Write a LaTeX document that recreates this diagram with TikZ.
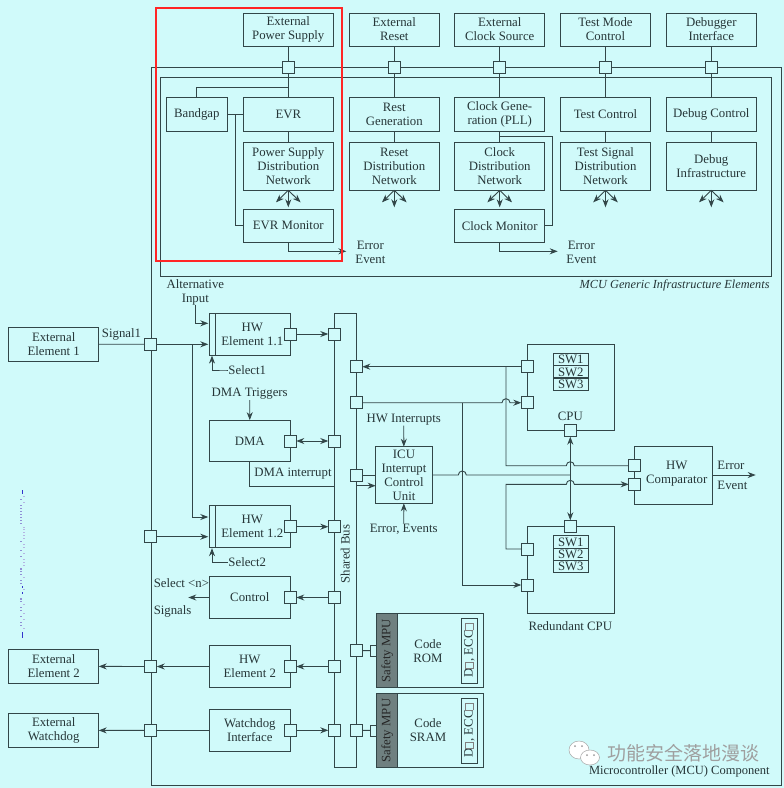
\documentclass[tikz,border=0pt]{standalone}
\usepackage{xcolor}
\usepackage{fontspec}
\setmainfont{Liberation Serif}
\newfontfamily\cjk{Noto Sans CJK SC}
\usetikzlibrary{arrows.meta}
\usetikzlibrary{calc}
\definecolor{bgcol}{HTML}{D0FAFA}
\definecolor{inkcol}{HTML}{324648}
\definecolor{txtcol}{HTML}{263638}
\definecolor{mpucol}{HTML}{6F8080}
\newcommand{\tofu}{{\color{gray}\fboxsep=0pt\fboxrule=.5pt\fbox{\rule{6pt}{0pt}\rule{0pt}{7pt}}}}

\begin{document}
\begin{tikzpicture} [
                x=1pt, y=-1pt, line width=.9pt, draw=inkcol, text=txtcol,
                txt/.style = {font=\fontsize{12.8}{14}\selectfont, align=center, inner sep=0pt},
                block/.style = {txt, draw, outer sep=0pt, minimum width=#1},
                block/.default = 90pt,
                port/.style = {draw, fill=bgcol, outer sep=0pt, inner sep=0pt, minimum width=12pt, minimum height=12pt},
                wire/.style = {draw=inkcol},
                arr/.style = {draw=inkcol, -{Stealth[length=8pt,width=6pt]}},
                darr/.style = {draw=inkcol, {Stealth[length=8pt,width=6pt]}-{Stealth[length=8pt,width=6pt]}},
                swbox/.style = {txt, draw, outer sep=0pt, minimum width=35pt, minimum height=12.2pt}
            ]
            \fill[bgcol] (0,0) rectangle (784,788);
            \useasboundingbox (0,0) rectangle (784,788);
            % frames and bus
            \node (mcu) at (466.2,426.7) [draw, outer sep=0pt, minimum width=630.3pt, minimum height=718pt] {};
            \node (infra) at (466,176.7) [draw, outer sep=0pt, minimum width=611.4pt, minimum height=199.3pt] {};
            \node (bus) at (345.3,540.5) [draw, outer sep=0pt, minimum width=22pt, minimum height=453.6pt] {};
            \node (buslabel) at (345.3,554) [txt, rotate=90] {Shared Bus};
            \node (infralabel) at (770,285) [txt, anchor=east, font=\fontsize{12.3}{14}\selectfont\itshape] {MCU Generic Infrastructure Elements};
            \node (mculabel) at (770,771.7) [txt, anchor=east, font=\fontsize{12.5}{14}\selectfont] {Microcontroller (MCU) Component};

            % top row
            \node (ext1) at (288.3,29.5) [block, minimum height=33pt] {External\\Power Supply};
            \node (ext2) at (394.3,29.5) [block, minimum height=33pt] {External\\Reset};
            \node (ext3) at (499.7,29.5) [block, minimum height=33pt] {External\\Clock Source};
            \node (ext4) at (605.5,29.5) [block, minimum height=33pt] {Test Mode\\Control};
            \node (ext5) at (711.3,29.5) [block, minimum height=33pt] {Debugger\\Interface};
            \foreach \i/\x in {1/288.3,2/394.3,3/499.7,4/605.5,5/711.3} {
                \node (p\i) at (\x,67.7) [port] {};
            }
            \node (gap) at (196.8,114.4) [block=61.7pt, minimum height=33.3pt] {Bandgap};
            \node (gen1) at (288.3,114.4) [block, minimum height=33.3pt] {EVR};
            \node (gen2) at (394.3,114.4) [block, minimum height=33.3pt] {Rest\\Generation};
            \node (gen3) at (499.7,114.4) [block, minimum height=33.3pt] {Clock Gene-\\ration (PLL)};
            \node (gen4) at (605.5,114.4) [block, minimum height=33.3pt] {Test Control};
            \node (gen5) at (711.3,114.4) [block, minimum height=33.3pt] {Debug Control};
            \node (dist1) at (288.3,166.3) [block, minimum height=48pt] {Power Supply\\Distribution\\Network};
            \node (dist2) at (394.3,166.3) [block, minimum height=48pt] {Reset\\Distribution\\Network};
            \node (dist3) at (499.7,166.3) [block, minimum height=48pt] {Clock\\Distribution\\Network};
            \node (dist4) at (605.5,166.3) [block, minimum height=48pt] {Test Signal\\Distribution\\Network};
            \node (dist5) at (711.3,166.3) [block, minimum height=48pt] {Debug\\Infrastructure};
            \node (mon1) at (288.3,225.7) [block, minimum height=33.3pt] {EVR Monitor};
            \node (mon3) at (499.7,225.7) [block, minimum height=33.3pt] {Clock Monitor};
            \foreach \i in {1,...,5} {
                \draw[wire] (ext\i) -- (p\i);
                \draw[wire] (p\i) -- (gen\i);
                \draw[wire] (gen\i) -- (dist\i);
                \draw[arr] (dist\i.south) -- ++(-12.3,12);
                \draw[arr] (dist\i.south) -- ++(0,17);
                \draw[arr] (dist\i.south) -- ++(12.3,12);
            }
            \coordinate (tap) at (288.3,87.3);
            \draw[wire] (tap) -| (gap);
            \draw[wire] (gap) -- (gen1);
            \coordinate (gaptap) at (235.3,114.4);
            \draw[wire] (gaptap) |- (mon1);
            \coordinate (clktap) at (499.7,136.3);
            \draw[wire] (clktap) -- (552.7,136.3) |- (mon3);
            \coordinate (err1) at (346.3,251.3);
            \coordinate (err3) at (557.7,251.3);
            \draw[arr] (mon1) |- (err1);
            \draw[arr] (mon3) |- (err3);
            \node (errtxt1) at (355,252) [txt, anchor=west] {Error\\Event};
            \node (errtxt3) at (566,252) [txt, anchor=west] {Error\\Event};

            % left column
            \node (ee1) at (53.7,344.2) [block, minimum height=33.7pt] {External\\Element 1};
            \node (ee2) at (53.7,666.3) [block, minimum height=33.7pt] {External\\Element 2};
            \node (ee3) at (53.7,730.5) [block, minimum height=33.7pt] {External\\Watchdog};
            \node (lp1) at (150.7,344.3) [port] {};
            \node (lp2) at (150.7,536.7) [port] {};
            \node (lp3) at (150.7,666.5) [port] {};
            \node (lp4) at (150.7,730.3) [port] {};
            \node (sig) at (121.5,334) [txt] {Signal1};

            % hardware elements
            \node (hw1) at (249.8,334.3) [block=81pt, minimum height=41.3pt] {};
            \node (hw2) at (249.8,526.7) [block=81pt, minimum height=42pt] {};
            \draw[wire] (215,313.7) -- (215,355);
            \draw[wire] (215,505.7) -- (215,547.7);
            \node (hw1txt) at (252.3,334.5) [txt] {HW\\Element 1.1};
            \node (hw2txt) at (252.3,526.7) [txt] {HW\\Element 1.2};
            \node (dma) at (249.8,441) [block=81pt, minimum height=41.7pt] {DMA};
            \node (ctl) at (249.8,597.5) [block=81pt, minimum height=41.7pt] {Control};
            \node (hw3) at (249.8,666.5) [block=81pt, minimum height=41.7pt] {HW\\Element 2};
            \node (wdg) at (249.8,730.3) [block=81pt, minimum height=42pt] {Watchdog\\Interface};
            \foreach \n/\y in {hw1/334,dma/441,hw2/526.7,ctl/597.5,hw3/666.5,wdg/730.3} {
                \node (o\n) at (290.3,\y) [port] {};
                \node (b\n) at (334.3,\y) [port] {};
            }
            \draw[arr] (ohw1) -- (bhw1);
            \draw[darr] (odma) -- (bdma);
            \draw[arr] (ohw2) -- (bhw2);
            \draw[arr] (bctl) -- (octl);
            \draw[arr] (bhw3) -- (ohw3);
            \draw[arr] (owdg) -- (bwdg);
            \coordinate (in1) at (208.3,344.3);
            \coordinate (in2) at (208.3,517);
            \coordinate (in3) at (208.3,536.7);
            \coordinate (in4) at (208.3,323.3);
            \draw[wire] (ee1) -- (lp1);
            \draw[arr] (lp1) -- (in1);
            \draw[arr] (192.7,344.3) |- (in2);
            \draw[arr] (lp2) -- (in3);
            \node (alt) at (195.3,292) [txt] {Alternative\\Input};
            \draw[arr] (alt) |- (in4);
            \node (sel1) at (228,370) [txt, anchor=west] {Select1};
            \node (sel2) at (228,562.3) [txt, anchor=west] {Select2};
            \coordinate (sin1) at (212,355.6);
            \coordinate (sin2) at (212,548.2);
            \draw[arr] (sel1.west) -- ++(-2,0) -| (sin1);
            \draw[arr] (sel2.west) -- ++(-2,0) -| (sin2);
            \node (dmatrig) at (249.7,394) [txt] {DMA Triggers};
            \draw[arr] (dmatrig) -- (dma);
            \node (dmaint) at (254,473.3) [txt, anchor=west] {DMA interrupt};
            \coordinate (dmabus) at (334.3,486);
            \draw[wire] (dma) |- (dmabus);
            \coordinate (selout) at (188.3,597.5);
            \draw[arr] (ctl) -- (selout);
            \node (seln) at (153.3,583) [txt, anchor=west] {Select <n>};
            \node (sigs) at (153.3,611.7) [txt, anchor=west] {Signals};
            \draw[arr] (hw3) -- (lp3);
            \draw[arr] (lp3) -- (ee2);
            \draw[wire] (wdg) -- (lp4);
            \draw[arr] (lp4) -- (ee3);

            % right side of the bus
            \node (r1) at (356.3,366.7) [port] {};
            \node (r2) at (356.3,402.7) [port] {};
            \node (r3) at (356.3,475) [port] {};
            \node (r4) at (356.3,650.5) [port] {};
            \node (r5) at (356.3,730.3) [port] {};

            % cpus
            \node (cpu) at (570.6,387.3) [draw, outer sep=0pt, minimum width=86.7pt, minimum height=86.7pt] {};
            \node (rcpu) at (570.6,569.6) [draw, outer sep=0pt, minimum width=86.7pt, minimum height=86.7pt] {};
            \node (cpulabel) at (570.3,416.7) [txt] {CPU};
            \node (rcpulabel) at (570.3,626) [txt] {Redundant CPU};
            \foreach \y [count=\i] in {359.8,372,384} {
                \node (sw\i) at (570.8,\y) [swbox] {SW\i};
            }
            \foreach \y [count=\i] in {541.9,554.2,566.3} {
                \node (rsw\i) at (570.8,\y) [swbox] {SW\i};
            }
            \node (c1) at (527.3,366.7) [port] {};
            \node (c2) at (527.3,402.7) [port] {};
            \node (c3) at (570.3,430.7) [port] {};
            \node (d1) at (527.3,549) [port] {};
            \node (d2) at (527.3,585) [port] {};
            \node (d3) at (570.3,526.3) [port] {};
            \node (cmp) at (673.5,475) [block=77.6pt, minimum height=58pt] {};
            \node (cmptxt) at (676.7,474) [txt] {HW\\Comparator};
            \node (k1) at (634.7,465.7) [port] {};
            \node (k2) at (634.7,484.3) [port] {};
            \node (icu) at (404,475) [block=56.6pt, minimum height=56.6pt] {ICU\\Interrupt\\Control\\Unit};
            \node (hwint) at (403.7,419.7) [txt] {HW Interrupts};
            \node (errev) at (403.7,529) [txt] {Error, Events};
            \draw[arr] (hwint) -- (icu);
            \draw[arr] (errev) -- (icu);
            \draw[wire] (r3) -- (icu.west |- r3);
            \coordinate (icuin) at (375.7,485.7);
            \draw[arr] (356.3,485.7) -- (icuin);
            \draw[arr] (c1) -- (r1);
            \draw[arr] (r2) -- (502,402.7) arc[start angle=180, end angle=0, radius=4pt] -- (c2);
            \draw[wire] (506,366.7) -- (506,465.7) -- (566.3,465.7) arc[start angle=180, end angle=0, radius=4pt] -- (k1);
            \draw[arr] (462.3,402.7) |- (d2);
            \draw[wire] (icu) -- (458.3,475) arc[start angle=180, end angle=0, radius=4pt] -- (570.3,475);
            \draw[darr] (c3) -- (d3);
            \draw[arr] (d1) -| (506,484.3) -- (566.3,484.3) arc[start angle=180, end angle=0, radius=4pt] -- (k2);
            \coordinate (cmpout) at (755.7,475);
            \draw[arr] (cmp) -- (cmpout);
            \node (cmperr) at (717,465.7) [txt, anchor=west] {Error};
            \node (cmpev) at (717,485) [txt, anchor=west] {Event};

            % memories
            \foreach \n/\y/\t/\s in {rom/650.7/ROM/r4,ram/730.5/SRAM/r5} {
                \node (q\n) at (376.7,\y) [port, minimum height=11pt] {};
                \draw[wire] (\s) -- (q\n);
                \node (m\n) at (430,\y) [draw, fill=bgcol, outer sep=0pt, minimum width=106.6pt, minimum height=74.2pt] {};
                \node (mpu\n) at (387.2,\y) [txt, draw, fill=mpucol, text=black!85, rotate=90, outer sep=0pt, minimum width=74.2pt, minimum height=21pt] {Safety MPU};
                \node (c\n) at (428,\y) [txt] {Code\\\t};
                \node (e\n) at (469.3,\y) [txt, draw, rotate=90, outer sep=0pt, minimum width=65pt, minimum height=16.7pt] {D\tofu, ECC\tofu};
            }

            % watermark
            \node (wmark) at (683,753) [inner sep=0pt, text=gray!75, font=\cjk\fontsize{19}{19}\selectfont] {功能安全落地漫谈};
            \draw[gray!70, fill=white, line width=.5pt] (579,750) ellipse [x radius=10pt, y radius=9pt];
            \draw[gray!70, fill=white, line width=.5pt] (590,757.5) ellipse [x radius=9.5pt, y radius=7.5pt];
            \foreach \x/\y in {575/746,582/746,587/755,594/755} {
                \fill[gray!80] (\x,\y) circle (1pt);
            }

            % red outline
            \draw[red!85!white, line width=1.7pt] (155.7,8.3) rectangle (342.3,261);

            % speckles at the left edge
            \foreach \y in {87,105,114,123,132,140,150,158,213,240,258,295,303,312,330,339,385,393,411,420,438,456,465} {
                \fill[blue!45!gray!60] (20.2,{470+\y/3}) rectangle ++(1.6,1.2);
            }
            \foreach \y in {79,97,170,178,187,196,205,222,231,249,268,276,285,321,358,403,430,447,475} {
                \fill[blue!45!gray!40] (23.2,{470+\y/3}) rectangle ++(1.4,1);
            }
            \foreach \y in {60,66,349,367,485,491,497} {
                \fill[blue!60!gray] (21.6,{470+\y/3}) rectangle ++(1.3,2);
            }
        \end{tikzpicture}
\end{document}
